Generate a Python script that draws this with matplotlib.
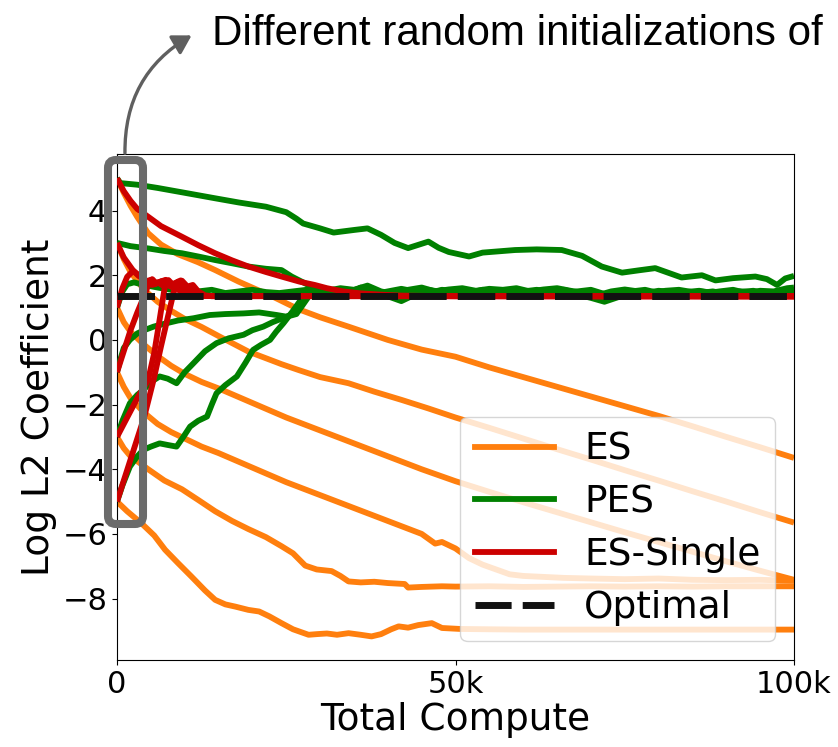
import matplotlib
matplotlib.use("Agg")
import matplotlib.pyplot as plt
from matplotlib.lines import Line2D
from matplotlib.patches import FancyBboxPatch, FancyArrowPatch
import numpy as np

# ---------------- data (compute in thousands, log L2 coefficient) ----------------
# ES runs, one per initialization
es_5_x = [0, 1, 2, 3, 4.6, 6.5, 9, 12, 14.5, 18, 23, 26.8, 30, 34.2, 40, 45, 50, 55, 60, 65, 70, 75, 80, 85, 90, 95, 100]
es_5_y = [5.0, 4.55, 4.15, 3.8, 3.3, 2.95, 2.65, 2.4, 2.16, 1.8, 1.34, 0.95, 0.7, 0.41, 0.0, -0.3, -0.52, -0.85, -1.15, -1.45, -1.75, -2.05, -2.35, -2.67, -3.0, -3.32, -3.65]

es_3_x = [0, 1, 2, 4, 6, 8, 10, 12.5, 15, 19.4, 24.3, 26.8, 30, 34.2, 38, 42.1, 46, 50, 55, 60, 65, 70, 75, 80, 85, 90, 95, 100]
es_3_y = [3.0, 2.5, 2.1, 1.55, 1.18, 0.9, 0.65, 0.4, 0.12, -0.36, -0.75, -0.93, -1.15, -1.34, -1.6, -1.86, -2.12, -2.4, -2.72, -3.05, -3.38, -3.7, -4.03, -4.35, -4.68, -5.0, -5.33, -5.65]

es_1_x = [0, 1, 2, 4, 6, 8, 10, 12.5, 15, 20, 25, 30, 35, 40, 45, 50, 55, 60, 65, 70, 75, 80, 85, 90, 95, 100]
es_1_y = [1.0, 0.55, 0.25, -0.15, -0.5, -0.8, -1.05, -1.3, -1.5, -1.95, -2.4, -2.8, -3.2, -3.6, -4.0, -4.37, -4.7, -5.02, -5.33, -5.64, -5.95, -6.25, -6.55, -6.85, -7.14, -7.42]

es_m1_x = [0, 1, 2, 4, 6, 8, 10, 12.5, 15, 20, 25, 30, 35, 40, 45, 47, 48, 50, 52, 54, 56, 58, 60, 63, 66, 70, 75, 80, 85, 90, 95, 100]
es_m1_y = [-1.0, -1.45, -1.8, -2.25, -2.6, -2.85, -3.05, -3.3, -3.5, -3.95, -4.4, -4.8, -5.2, -5.6, -6.0, -6.3, -6.25, -6.45, -6.75, -6.95, -7.1, -7.25, -7.3, -7.33, -7.36, -7.38, -7.4, -7.38, -7.42, -7.43, -7.42, -7.45]

es_m3_x = [0, 1, 2, 4.6, 7, 9.6, 12, 14.5, 17, 19.4, 22, 24.3, 26, 27.8, 29.5, 31.7, 33, 34.2, 36, 38, 40, 42.5, 43, 45, 48, 50, 55, 60, 65, 70, 75, 80, 85, 90, 95, 100]
es_m3_y = [-3.0, -3.35, -3.6, -4.0, -4.35, -4.62, -4.95, -5.3, -5.6, -5.85, -6.1, -6.38, -6.6, -6.98, -7.1, -7.15, -7.3, -7.47, -7.5, -7.48, -7.52, -7.55, -7.66, -7.64, -7.62, -7.63, -7.62, -7.64, -7.63, -7.62, -7.63, -7.62, -7.63, -7.62, -7.62, -7.62]

es_m5_x = [0, 1.5, 3.6, 5.5, 7.1, 9, 11, 13, 14.5, 16, 17.5, 19.4, 21, 22.5, 24.3, 26, 28.3, 29.5, 31, 32.5, 34.2, 36, 37.6, 39, 40.5, 41.6, 43, 44.5, 46.5, 48, 50.7, 55, 60, 70, 80, 90, 100]
es_m5_y = [-5.0, -5.3, -5.67, -6.05, -6.49, -6.9, -7.32, -7.75, -8.04, -8.18, -8.25, -8.35, -8.4, -8.55, -8.76, -8.95, -9.12, -9.1, -9.08, -9.12, -9.07, -9.12, -9.17, -9.1, -8.95, -8.86, -8.9, -8.82, -8.76, -8.91, -8.94, -8.95, -8.96, -8.96, -8.96, -8.96, -8.96]

# PES runs
pes_5_x = [0, 0.5, 3, 6, 10, 14.5, 18, 22, 25, 26.5, 27.5, 30, 32, 35, 37, 39, 41, 43, 46, 47.5, 49, 52, 54, 58.8, 62, 65.7, 68.7, 71.6, 74.6, 77, 79.5, 83.4, 86.4, 88.4, 91, 94.3, 96, 97.5, 98.7, 100]
pes_5_y = [5.0, 4.85, 4.8, 4.7, 4.55, 4.38, 4.25, 4.12, 3.95, 3.75, 3.6, 3.45, 3.32, 3.4, 3.45, 3.25, 3.0, 2.84, 3.04, 2.85, 2.72, 2.58, 2.7, 2.78, 2.8, 2.78, 2.6, 2.27, 2.08, 2.15, 2.22, 1.93, 2.0, 1.84, 1.91, 1.96, 1.88, 1.7, 1.9, 1.98]

pes_3_x = [0, 2, 4.6, 7, 9.6, 12, 14.5, 17, 19.4, 22, 24.3, 25.8, 27.3, 29.2, 31, 33, 35, 37, 39, 41, 43, 45, 47, 49, 51, 53, 55, 57, 59, 61, 63, 65, 67, 69, 71, 73, 75, 77, 79, 81, 83, 85, 87, 89, 91, 93, 95, 97, 99, 100]
pes_3_y = [3.0, 2.9, 2.83, 2.75, 2.68, 2.58, 2.47, 2.37, 2.27, 2.2, 2.16, 1.96, 1.8, 1.6, 1.52, 1.6, 1.55, 1.68, 1.5, 1.42, 1.55, 1.62, 1.5, 1.56, 1.6, 1.52, 1.58, 1.55, 1.6, 1.5, 1.56, 1.6, 1.52, 1.45, 1.38, 1.5, 1.56, 1.5, 1.45, 1.52, 1.55, 1.48, 1.44, 1.5, 1.55, 1.45, 1.52, 1.5, 1.6, 1.62]

pes_1_x = [0, 0.8, 1.5, 2.5, 4, 6, 8, 10, 12, 14, 16, 18, 20, 22, 24, 26, 28, 30, 32, 34, 36, 38, 40, 42, 44, 46, 48, 50, 52, 54, 56, 58, 60, 62, 64, 66, 68, 70, 72, 74, 76, 78, 80, 82, 84, 86, 88, 90, 92, 94, 96, 98, 100]
pes_1_y = [1.0, 1.5, 1.72, 1.78, 1.7, 1.62, 1.55, 1.6, 1.5, 1.55, 1.45, 1.5, 1.55, 1.48, 1.45, 1.5, 1.55, 1.45, 1.5, 1.4, 1.62, 1.55, 1.35, 1.2, 1.4, 1.5, 1.42, 1.48, 1.4, 1.5, 1.45, 1.38, 1.45, 1.5, 1.42, 1.35, 1.4, 1.3, 1.18, 1.32, 1.45, 1.4, 1.48, 1.42, 1.35, 1.45, 1.5, 1.42, 1.38, 1.45, 1.4, 1.48, 1.5]

pes_m1_x = [0, 0.5, 1, 1.9, 3, 4, 5.4, 7, 9, 11.3, 13.7, 16, 18.7, 21, 23.6, 25, 26, 27, 28, 29, 30, 32, 34, 36, 38, 40, 42, 44, 46, 48, 50, 52, 54, 56, 58, 60, 62, 64, 66, 68, 70, 72, 74, 76, 78, 80, 82, 84, 86, 88, 90, 92, 94, 96, 98, 100]
pes_m1_y = [-1.0, -0.6, -0.25, 0.0, 0.2, 0.3, 0.41, 0.5, 0.6, 0.67, 0.77, 0.8, 0.82, 0.85, 0.77, 0.72, 0.8, 1.0, 1.3, 1.45, 1.52, 1.45, 1.55, 1.5, 1.42, 1.5, 1.58, 1.5, 1.45, 1.55, 1.5, 1.45, 1.55, 1.5, 1.42, 1.5, 1.55, 1.48, 1.45, 1.5, 1.55, 1.42, 1.4, 1.5, 1.55, 1.45, 1.4, 1.48, 1.52, 1.45, 1.4, 1.48, 1.52, 1.42, 1.45, 1.55]

pes_m3_x = [0, 0.8, 1.9, 3, 3.9, 5, 6.3, 7.5, 8.8, 10, 11.3, 13, 14.7, 16.5, 18.7, 20, 21.6, 23, 25.1, 26.5, 27.5, 28.5, 30, 32, 34, 36, 38, 40, 42, 44, 46, 48, 50, 52, 54, 56, 58, 60, 62, 64, 66, 68, 70, 72, 74, 76, 78, 80, 82, 84, 86, 88, 90, 92, 94, 96, 98, 100]
pes_m3_y = [-3.0, -2.5, -1.96, -1.7, -1.55, -1.3, -1.13, -1.2, -1.34, -1.0, -0.72, -0.35, -0.1, 0.05, 0.16, 0.3, 0.41, 0.55, 0.72, 0.8, 1.1, 1.4, 1.4, 1.38, 1.45, 1.4, 1.5, 1.45, 1.38, 1.42, 1.48, 1.4, 1.45, 1.5, 1.42, 1.38, 1.45, 1.4, 1.35, 1.45, 1.5, 1.42, 1.36, 1.3, 1.38, 1.42, 1.36, 1.4, 1.46, 1.4, 1.36, 1.42, 1.48, 1.4, 1.36, 1.42, 1.38, 1.45]

pes_m5_x = [0, 0.8, 1.9, 3, 3.9, 5, 6.3, 7.5, 8.8, 9.8, 10.8, 12, 13.3, 14, 14.7, 16, 17.7, 19, 20.1, 21.3, 22.6, 23.5, 24.6, 26, 27.5, 28.5, 30, 32, 34, 36, 38, 40, 42, 44, 46, 48, 50, 52, 54, 56, 58, 60, 62, 64, 66, 68, 70, 72, 74, 76, 78, 80, 82, 84, 86, 88, 90, 92, 94, 96, 98, 100]
pes_m5_y = [-5.0, -4.5, -3.92, -3.6, -3.4, -3.3, -3.2, -3.25, -3.3, -3.0, -2.68, -2.5, -2.37, -2.0, -1.65, -1.4, -1.13, -0.7, -0.31, -0.15, 0.0, 0.25, 0.52, 0.9, 1.34, 1.5, 1.5, 1.55, 1.48, 1.6, 1.5, 1.4, 1.3, 1.45, 1.55, 1.48, 1.52, 1.46, 1.52, 1.48, 1.52, 1.45, 1.42, 1.5, 1.55, 1.45, 1.35, 1.25, 1.4, 1.48, 1.45, 1.52, 1.48, 1.42, 1.5, 1.46, 1.42, 1.5, 1.48, 1.42, 1.45, 1.52]

# ES-Single runs
single_5_x = [0, 1, 2, 3, 4.6, 6.5, 9.6, 12, 14.5, 17, 19.4, 22, 24.3, 27, 29.2, 31, 33.4, 36, 39, 42, 46, 50, 100]
single_5_y = [5.0, 4.6, 4.3, 4.05, 3.81, 3.52, 3.19, 2.93, 2.68, 2.46, 2.27, 2.1, 1.96, 1.8, 1.7, 1.6, 1.5, 1.44, 1.4, 1.37, 1.36, 1.35, 1.35]

single_3_x = [0, 1, 2.4, 3.5, 4.4, 5.2, 6, 6.8, 7.6, 8.4, 9.2, 10, 11, 12, 13, 100]
single_3_y = [3.0, 2.55, 2.14, 1.95, 1.8, 1.7, 1.78, 1.68, 1.75, 1.65, 1.72, 1.6, 1.48, 1.4, 1.36, 1.35]

single_1_x = [0, 0.8, 1.5, 2.4, 3.2, 4.4, 5, 5.6, 6.4, 7.2, 8, 9, 9.6, 10.4, 11.2, 12, 13, 14, 100]
single_1_y = [1.0, 1.6, 1.95, 2.14, 1.98, 1.82, 1.86, 1.72, 1.8, 1.86, 1.7, 1.78, 1.83, 1.65, 1.7, 1.5, 1.38, 1.35, 1.35]

single_m1_x = [0, 1, 2, 3, 4, 4.7, 5.2, 5.8, 6.6, 7.4, 8.5, 9.5, 10.5, 12, 100]
single_m1_y = [-1.0, -0.35, 0.3, 0.85, 1.35, 1.75, 1.88, 1.75, 1.82, 1.7, 1.6, 1.5, 1.42, 1.36, 1.35]

single_m3_x = [0, 1, 2, 3, 4.6, 5.5, 6.2, 6.8, 7.2, 7.6, 8.2, 9, 10, 11, 12.5, 100]
single_m3_y = [-3.0, -2.6, -2.2, -1.8, -1.24, -0.4, 0.5, 1.3, 1.8, 1.85, 1.72, 1.8, 1.6, 1.45, 1.36, 1.35]

single_m5_x = [0, 1, 2, 3, 4, 5.4, 6.5, 7.5, 8.4, 9, 9.4, 10, 11, 12, 13, 100]
single_m5_y = [-5.0, -4.35, -3.7, -3.05, -2.4, -1.24, -0.2, 0.7, 1.5, 1.8, 1.84, 1.68, 1.5, 1.4, 1.36, 1.35]

optimal_value = 1.35

es_runs = [(es_5_x, es_5_y), (es_3_x, es_3_y), (es_1_x, es_1_y),
           (es_m1_x, es_m1_y), (es_m3_x, es_m3_y), (es_m5_x, es_m5_y)]
pes_runs = [(pes_5_x, pes_5_y), (pes_3_x, pes_3_y), (pes_1_x, pes_1_y),
            (pes_m1_x, pes_m1_y), (pes_m3_x, pes_m3_y), (pes_m5_x, pes_m5_y)]
single_runs = [(single_5_x, single_5_y), (single_3_x, single_3_y), (single_1_x, single_1_y),
               (single_m1_x, single_m1_y), (single_m3_x, single_m3_y), (single_m5_x, single_m5_y)]

x_ticks = [0, 50000, 100000]
x_tick_labels = ["0", "50k", "100k"]
y_ticks = [-8, -6, -4, -2, 0, 2, 4]

ES_COLOR = "#ff7f0e"
PES_COLOR = "#008000"
SINGLE_COLOR = "#cc0000"
LW = 4.2

# ---------------- figure ----------------
W, H = 838, 747
fig = plt.figure(figsize=(W / 100, H / 100), dpi=100)
ax = fig.add_axes([117 / W, 1 - 660 / H, (794 - 117) / W, (660 - 154) / H])

for xs, ys in es_runs:
    ax.plot(np.array(xs) * 1000, ys, color=ES_COLOR, lw=LW, solid_capstyle="butt", zorder=2)
for xs, ys in pes_runs:
    ax.plot(np.array(xs) * 1000, ys, color=PES_COLOR, lw=LW, solid_capstyle="butt", zorder=3)
for xs, ys in single_runs:
    ax.plot(np.array(xs) * 1000, ys, color=SINGLE_COLOR, lw=LW, solid_capstyle="butt", zorder=4)
ax.axhline(optimal_value, color="#111111", lw=5, dashes=(5.4, 1.6), zorder=5)

ax.set_xlim(0, 100000)
ax.set_ylim(-9.9, 5.75)
ax.set_xticks(x_ticks)
ax.set_xticklabels(x_tick_labels)
ax.set_yticks(y_ticks)
ax.tick_params(labelsize=22)
ax.set_xlabel("Total Compute", fontsize=27, labelpad=2)
ax.set_ylabel("Log L2 Coefficient", fontsize=27, labelpad=4)

handles = [Line2D([], [], color=ES_COLOR, lw=LW),
           Line2D([], [], color=PES_COLOR, lw=LW),
           Line2D([], [], color=SINGLE_COLOR, lw=LW),
           Line2D([], [], color="#111111", lw=5, dashes=(5.2, 1.6))]
ax.legend(handles, ["ES", "PES", "ES-Single", "Optimal"], loc="lower right",
          fontsize=27, handlelength=2.1, labelspacing=0.45)

# rounded box around the starting points
box = FancyBboxPatch((108, H - 524), 35, 364, boxstyle="round,pad=0,rounding_size=8",
                     transform=None, fill=False, edgecolor="#6b6b6b", lw=5.8,
                     clip_on=False, zorder=10)
fig.add_artist(box)

arrow = FancyArrowPatch((125, H - 156), (194, H - 34), transform=None,
                        connectionstyle="arc3,rad=-0.3", arrowstyle="-|>,head_length=11,head_width=6.5",
                        color="#5f5f5f", lw=2.4, clip_on=False, zorder=10)
fig.add_artist(arrow)

fig.text(212 / W, 1 - 45 / H, "Different random initializations of",
         family="Liberation Sans", fontsize=30.3, ha="left", va="baseline")

fig.savefig("out.png", dpi=100)
